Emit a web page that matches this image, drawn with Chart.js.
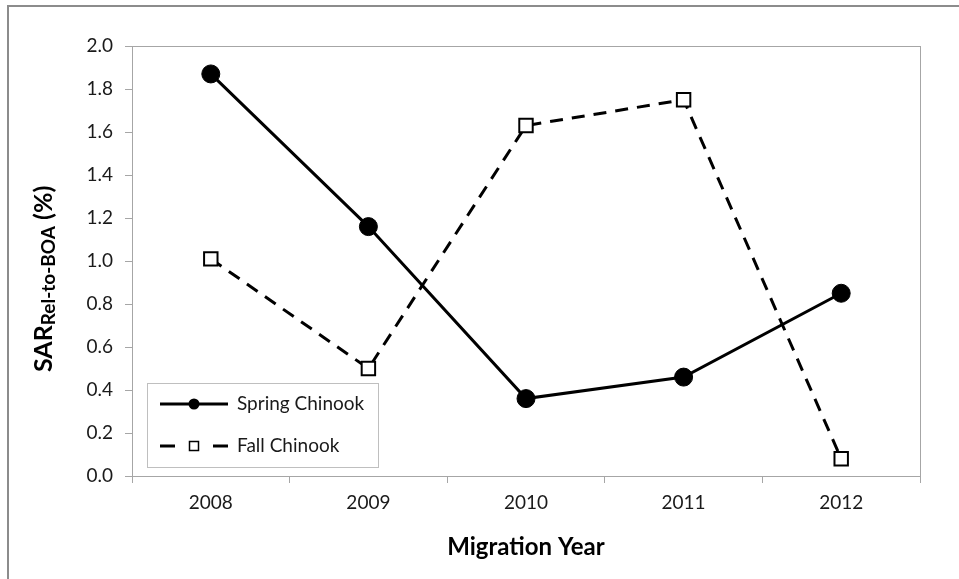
<!DOCTYPE html>
<html>
<head>
<meta charset="utf-8">
<script src="https://cdn.jsdelivr.net/npm/chart.js@4.4.1/dist/chart.umd.min.js"></script>
<style>
html, body { margin: 0; padding: 0; background: #fff; overflow: hidden; }
#wrap { position: relative; width: 959px; height: 579px; }
#frame { position: absolute; left: 7px; top: 5px; width: 2000px; height: 2000px;
  border: 2px solid #8c8c8c; pointer-events: none; }
</style>
</head>
<body>
<div id="wrap">
  <canvas id="sarChart" width="959" height="579"></canvas>
  <div id="frame"></div>
</div>
<script>
// data
const years = ['2008', '2009', '2010', '2011', '2012'];
const springChinook = [1.87, 1.16, 0.36, 0.46, 0.85];
const fallChinook = [1.01, 0.50, 1.63, 1.75, 0.08];
const yTicks = [0.0, 0.2, 0.4, 0.6, 0.8, 1.0, 1.2, 1.4, 1.6, 1.8, 2.0];

const FONT = 'Lato, "Open Sans", sans-serif';
const axisGray = '#a6a6a6';

// y title with subscript, drawn on the canvas
const yTitlePlugin = {
  id: 'yTitle',
  afterDraw(chart) {
    const c = chart.ctx;
    c.save();
    c.fillStyle = '#000';
    c.textBaseline = 'alphabetic';
    c.translate(52, 372);
    c.rotate(-Math.PI / 2);
    let x = 0;
    c.font = 'bold 25px ' + FONT;
    c.fillText('SAR', x, 0);
    x += c.measureText('SAR').width;
    c.font = 'bold 19px ' + FONT;
    c.fillText('Rel-to-BOA', x, 3);
    x += c.measureText('Rel-to-BOA').width;
    c.font = 'bold 25px ' + FONT;
    c.fillText(' (%)', x, 0);
    c.restore();
  }
};

// plot area frame (top and right edges)
const framePlugin = {
  id: 'plotFrame',
  beforeDatasetsDraw(chart) {
    const a = chart.chartArea;
    const c = chart.ctx;
    c.save();
    c.strokeStyle = axisGray;
    c.lineWidth = 1;
    c.strokeRect(a.left + 0.5, a.top + 0.5, a.right - a.left, a.bottom - a.top);
    c.restore();
  }
};

// legend box in the lower left of the plot
const legendPlugin = {
  id: 'boxLegend',
  afterDatasetsDraw(chart) {
    const a = chart.chartArea;
    const c = chart.ctx;
    const bx = a.left + 15, by = a.bottom - 93, bw = 231, bh = 84;
    c.save();
    c.fillStyle = '#fff';
    c.fillRect(bx, by, bw, bh);
    c.strokeStyle = '#bfbfbf';
    c.lineWidth = 1;
    c.strokeRect(bx + 0.5, by + 0.5, bw, bh);
    const rows = [by + 21, by + 63];
    chart.data.datasets.forEach((ds, i) => {
      const y = rows[i];
      const x0 = bx + 13, x1 = bx + 81, xm = bx + 47;
      c.strokeStyle = '#000';
      c.lineWidth = 3;
      c.beginPath();
      if (ds.borderDash) {
        c.moveTo(x0, y); c.lineTo(x0 + 15, y);
        c.moveTo(x1 - 15, y); c.lineTo(x1, y);
      } else {
        c.moveTo(x0, y); c.lineTo(x1, y);
      }
      c.stroke();
      if (ds.pointStyle === 'circle') {
        c.fillStyle = '#000';
        c.beginPath();
        c.arc(xm, y, 5.5, 0, Math.PI * 2);
        c.fill();
      } else {
        c.fillStyle = '#fff';
        c.lineWidth = 1.5;
        c.fillRect(xm - 4.5, y - 4.5, 9, 9);
        c.strokeRect(xm - 4.5, y - 4.5, 9, 9);
      }
      c.fillStyle = '#1a1a1a';
      c.font = '19px ' + FONT;
      c.textBaseline = 'middle';
      c.fillText(ds.label, bx + 90, y);
    });
    c.restore();
  }
};

new Chart(document.getElementById('sarChart'), {
  type: 'line',
  data: {
    labels: years,
    datasets: [{
      label: 'Spring Chinook',
      data: springChinook,
      borderColor: '#000',
      backgroundColor: '#000',
      borderWidth: 3,
      pointStyle: 'circle',
      pointRadius: 9,
      pointBorderWidth: 1,
      pointBackgroundColor: '#000',
      pointBorderColor: '#000',
      tension: 0
    }, {
      label: 'Fall Chinook',
      data: fallChinook,
      borderColor: '#000',
      backgroundColor: '#fff',
      borderWidth: 3,
      borderDash: [13, 9],
      pointStyle: 'rect',
      pointRadius: 9.5,
      pointBorderWidth: 2,
      pointBackgroundColor: '#fff',
      pointBorderColor: '#000',
      tension: 0
    }]
  },
  options: {
    responsive: false,
    animation: false,
    layout: { padding: { left: 0, top: 46, right: 39, bottom: 0 } },
    plugins: {
      legend: { display: false },
      tooltip: { enabled: false }
    },
    scales: {
      x: {
        offset: true,
        grid: { offset: true, drawOnChartArea: false, tickLength: 7, color: axisGray },
        border: { color: axisGray },
        ticks: { color: '#1a1a1a', font: { family: FONT, size: 19 }, padding: 8 },
        title: {
          display: true,
          text: 'Migration Year',
          color: '#000',
          font: { family: FONT, size: 24, weight: 'bold' },
          padding: { top: 0, bottom: 17 }
        },
        afterFit(scale) { scale.height = 103; }
      },
      y: {
        min: 0,
        max: 2,
        afterBuildTicks(scale) { scale.ticks = yTicks.map(v => ({ value: v })); },
        grid: { drawOnChartArea: false, tickLength: 7, color: axisGray },
        border: { color: axisGray },
        ticks: {
          color: '#1a1a1a',
          font: { family: FONT, size: 19 },
          padding: 12,
          callback: v => Number(v).toFixed(1)
        },
        afterFit(scale) { scale.width = 132; }
      }
    }
  },
  plugins: [framePlugin, legendPlugin, yTitlePlugin]
});
</script>
</body>
</html>
